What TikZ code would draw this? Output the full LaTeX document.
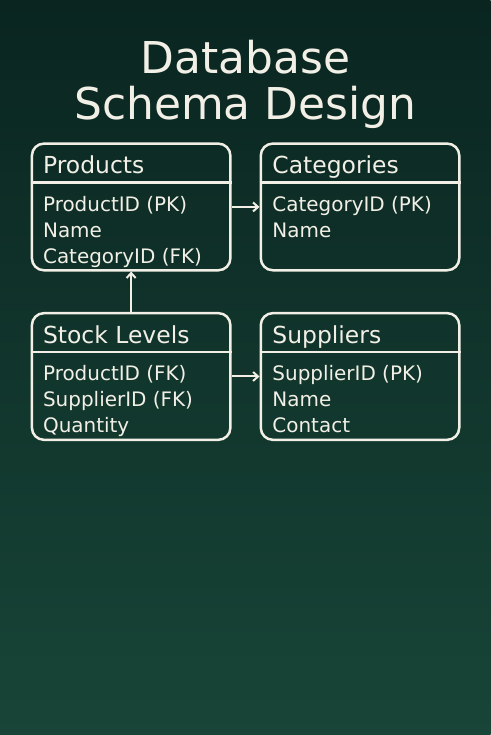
\documentclass[tikz,border=0pt]{standalone}
\usepackage{fontspec}
\setmainfont{DejaVu Sans}
\usetikzlibrary{arrows.meta}

\definecolor{bgtop}{HTML}{0A2520}
\definecolor{bgbot}{HTML}{184538}
\definecolor{ink}{HTML}{F2F0E6}

\tikzset{
  tbl/.style={draw=ink, line width=2.5pt, rounded corners=12pt, minimum width=199pt, minimum height=127pt, inner sep=0pt},
  hdr/.style={text=ink, font=\fontsize{23.5}{27}\selectfont, anchor=base west, inner sep=0pt},
  fld/.style={text=ink, font=\fontsize{20}{23}\selectfont, anchor=base west, inner sep=0pt},
  sep/.style={draw=ink, line width=2.5pt},
  link/.style={draw=ink, line width=2pt, -{Straight Barb[length=5pt,width=9pt]}}
}

\begin{document}
\begin{tikzpicture}[x=1pt, y=-1pt]
    \shade[top color=bgtop, bottom color=bgbot] (-1,-1) rectangle (491,736); % background
    \useasboundingbox (0,0) rectangle (490,735);
    \node[text=ink, font=\fontsize{44}{46}\selectfont, align=center] (title) at (245,83.5) {Database\\Schema Design};
    % tables
    \node[tbl] (products) at (130.5,206.5) {};
    \node[tbl] (categories) at (360,206.5) {};
    \node[tbl] (stock) at (130.5,376.5) {};
    \node[tbl] (suppliers) at (360,376.5) {};
    % headers
    \node[hdr] (products-h) at (42,173) {Products};
    \node[hdr] (categories-h) at (272,173) {Categories};
    \node[hdr] (stock-h) at (42,343) {Stock Levels};
    \node[hdr] (suppliers-h) at (272,343) {Suppliers};
    \draw[sep] (products.west |- 0,182) -- (products.east |- 0,182);
    \draw[sep] (categories.west |- 0,182) -- (categories.east |- 0,182);
    \draw[sep] (stock.west |- 0,352) -- (stock.east |- 0,352);
    \draw[sep] (suppliers.west |- 0,352) -- (suppliers.east |- 0,352);
    % fields
    \foreach \t [count=\i] in {ProductID (PK),Name,CategoryID (FK)}
        \node[fld] (products-\i) at (42,185+26*\i) {\t};
    \foreach \t [count=\i] in {CategoryID (PK),Name}
        \node[fld] (categories-\i) at (272,185+26*\i) {\t};
    \foreach \t [count=\i] in {ProductID (FK),SupplierID (FK),Quantity}
        \node[fld] (stock-\i) at (42,355+26*\i) {\t};
    \foreach \t [count=\i] in {SupplierID (PK),Name,Contact}
        \node[fld] (suppliers-\i) at (272,355+26*\i) {\t};
    % relations
    \draw[link] (products) -- (categories);
    \draw[link] (stock) -- (suppliers);
    \draw[link] (stock) -- (products);
\end{tikzpicture}
\end{document}
